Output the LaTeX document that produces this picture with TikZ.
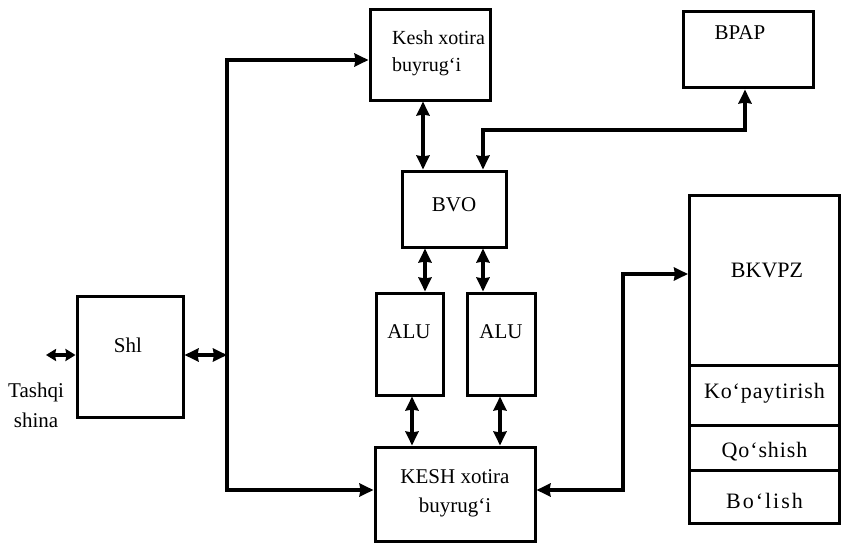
\documentclass[tikz,border=0pt]{standalone}
\usepackage{fontspec}
\setmainfont{Liberation Serif}
\usetikzlibrary{arrows.meta}
\begin{document}
\begin{tikzpicture}[x=1pt,y=-1pt,
  box/.style={draw=black,line width=3pt,rectangle,inner sep=0pt,fill=white},
  lbl/.style={font=\fontsize{21}{25}\selectfont,inner sep=0pt,align=center},
  wlbl/.style={font=\fontsize{22}{26}\selectfont\addfontfeature{LetterSpace=4},inner sep=0pt,align=center},
  conn/.style={line width=4.4pt,line join=miter,{Stealth[length=14pt,width=13pt,inset=1pt]}-{Stealth[length=14pt,width=13pt,inset=1pt]}},
  sconn/.style={line width=4.4pt,{Stealth[length=10pt,width=12pt,inset=1pt]}-{Stealth[length=10pt,width=12pt,inset=1pt]}}]
\useasboundingbox (0,0) rectangle (841,543);
% boxes
\node[box,minimum width=106pt,minimum height=121pt] (shl) at (130,356.5) {};
\node[box,minimum width=120pt,minimum height=90pt] (kesh) at (430,55) {};
\node[box,minimum width=130pt,minimum height=76pt] (bpap) at (748,50) {};
\node[box,minimum width=104pt,minimum height=76pt] (bvo) at (454,209) {};
\node[box,minimum width=67pt,minimum height=102pt] (alua) at (409.5,344) {};
\node[box,minimum width=68pt,minimum height=102pt] (alub) at (501,344) {};
\node[box,minimum width=160pt,minimum height=94pt] (keshb) at (455,494) {};
\node[box,minimum width=150pt,minimum height=170pt] (bkvpz) at (764.5,280) {};
\node[box,minimum width=150pt,minimum height=60pt] (kop) at (764.5,395) {};
\node[box,minimum width=150pt,minimum height=45pt] (qosh) at (764.5,447.5) {};
\node[box,minimum width=150pt,minimum height=53pt] (bol) at (764.5,496.5) {};
% labels
\node[lbl] (tshl) at (128,345) {Shl};
\node[lbl,font=\fontsize{20}{24}\selectfont,anchor=west] (tkesh1) at (392,38) {Kesh xotira};
\node[lbl,font=\fontsize{20}{24}\selectfont,anchor=west] (tkesh2) at (392,67) {buyrug‘i};
\node[lbl] (tbpap) at (740,33) {BPAP};
\node[lbl] (tbvo) at (454,205) {BVO};
\node[lbl] (talua) at (409,332) {ALU};
\node[lbl] (talub) at (501,332) {ALU};
\node[lbl] (tkb1) at (455,477) {KESH xotira};
\node[lbl] (tkb2) at (455,507) {buyrug‘i};
\node[lbl,font=\fontsize{22}{26}\selectfont] (tbk) at (767,270) {BKVPZ};
\node[wlbl] (tkop) at (764.5,393) {Ko‘paytirish};
\node[wlbl] (tqosh) at (764.5,452) {Qo‘shish};
\node[wlbl,font=\fontsize{22}{26}\selectfont\addfontfeature{LetterSpace=9}] (tbol) at (764.5,501) {Bo‘lish};
\node[lbl] (tt1) at (36,392) {Tashqi};
\node[lbl] (tt2) at (36,420) {shina};
% coordinates
\coordinate (ext) at (46,355);
\coordinate (busm) at (227,355);
\coordinate (bt) at (227,60);
\coordinate (bb) at (227,490);
\coordinate (xa) at (423,0);
\coordinate (xb) at (483,0);
\coordinate (xc) at (425,0);
\coordinate (xd) at (412,0);
\coordinate (xe) at (500,0);
\coordinate (ba) at (483,130);
\coordinate (bpc) at (745,130);
\coordinate (ra) at (623,490);
\coordinate (rb) at (623,274);
% connectors
\draw[sconn] (ext) -- (ext -| shl.west);
\draw[conn] (busm -| shl.east) -- (busm);
\draw[conn] (bt -| kesh.west) -- (bt) -- (bb) -- (bb -| keshb.west);
\draw[conn] (kesh.south -| xa) -- (bvo.north -| xa);
\draw[conn] (bvo.north -| xb) -- (ba) -- (bpc) -- (bpap.south -| bpc);
\draw[conn] (bvo.south -| xc) -- (alua.north -| xc);
\draw[conn] (bvo.south -| xb) -- (alub.north -| xb);
\draw[conn] (alua.south -| xd) -- (keshb.north -| xd);
\draw[conn] (alub.south -| xe) -- (keshb.north -| xe);
\draw[conn] (ra -| keshb.east) -- (ra) -- (rb) -- (rb -| bkvpz.west);
\end{tikzpicture}
\end{document}
